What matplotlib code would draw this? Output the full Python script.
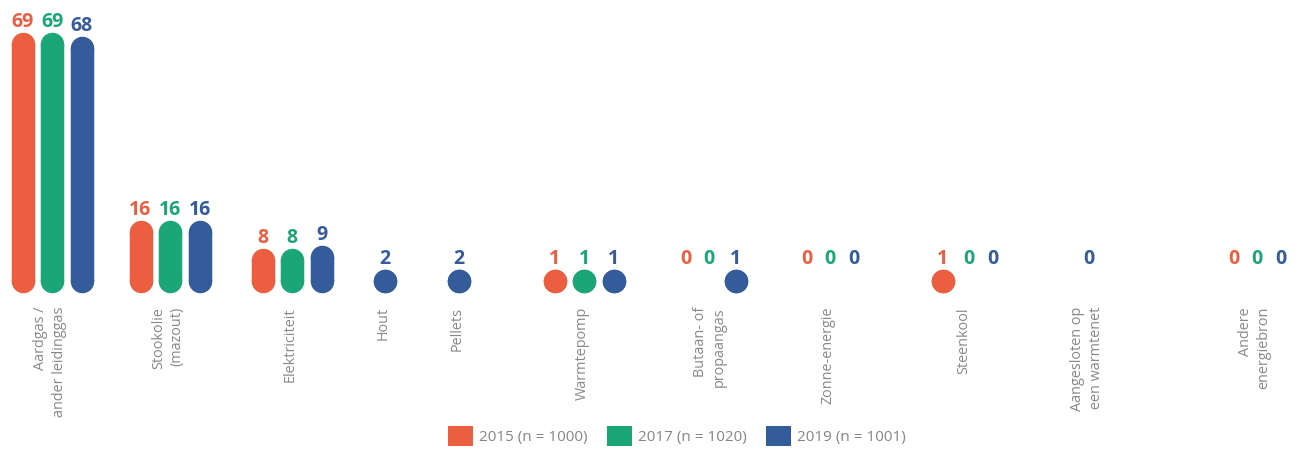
import matplotlib
matplotlib.use("Agg")
import matplotlib.pyplot as plt
from matplotlib.patches import Patch

plt.rcParams.update({
    "font.family": ["Open Sans", "DejaVu Sans"],
    "figure.facecolor": "white",
})

# data (percentages)
categories = ["Aardgas /\nander leidinggas", "Stookolie\n(mazout)", "Elektriciteit", "Hout",
              "Pellets", "Warmtepomp", "Butaan- of\npropaangas", "Zonne-energie",
              "Steenkool", "Aangesloten op\neen warmtenet", "Andere\nenergiebron"]
y2015 = [69, 16, 8, None, None, 1, 0, 0, 1, None, 0]
y2017 = [69, 16, 8, None, None, 1, 0, 0, 0, None, 0]
y2019 = [68, 16, 9, 2, 2, 1, 1, 0, 0, 0, 0]
series_labels = ["2015 (n = 1000)", "2017 (n = 1020)", "2019 (n = 1001)"]
colors = ["#EC5E40", "#1AA676", "#345B9A"]

# layout (pixels)
W, H, DPI = 1297, 451, 100
centers = [52, 170, 292, 385, 459, 584, 712, 830, 966, 1089, 1257]
PX = 0.72  # points per pixel
bar_w = 23.5
base = 2.18          # capsule starts here (data units)
y0_px, scale = 288.75, 3.547   # pixel row of value 0, px per unit

fig = plt.figure(figsize=(W / DPI, H / DPI), dpi=DPI)
ax = fig.add_axes([0, 0, 1, 1])
ax.set_xlim(0, W)
ax.set_ylim(-(H - y0_px) / scale, y0_px / scale)
ax.axis("off")

for i, cx in enumerate(centers):
    items = [(v, c) for v, c in zip((y2015[i], y2017[i], y2019[i]), colors) if v is not None]
    widths = [24 if v > 0 else 18 for v, _ in items]
    gap = 5.5
    total = sum(widths) + gap * (len(items) - 1)
    x = cx - total / 2
    for (v, c), w in zip(items, widths):
        xc = x + w / 2
        top = max(v, base)
        if v > 0:
            # capsule: butt line + round ends
            ax.plot([xc, xc], [base, top], color=c, lw=bar_w * PX, solid_capstyle="butt",
                    marker="o", ms=bar_w * PX, markeredgewidth=0, zorder=2)
        ax.annotate(str(v), (xc, top), xytext=(0, 17 * PX), textcoords="offset points",
                    ha="center", va="baseline", fontsize=14, fontweight="bold", color=c)
        x += w + gap
    ax.text(cx - 2, -(307 - y0_px) / scale, categories[i], rotation=90, ha="center", va="top",
            multialignment="right", fontsize=10.4, color="#888888", linespacing=1.3)

handles = [Patch(facecolor=c, edgecolor="none") for c in colors]
fig.legend(handles, series_labels, loc="lower center", bbox_to_anchor=(0.522, -0.005),
           ncol=3, frameon=False, fontsize=11, handlelength=1.6, handleheight=1.6,
           handletextpad=0.4, columnspacing=1.3, borderpad=0, labelcolor="#858585")

fig.savefig("out.png", dpi=DPI)
